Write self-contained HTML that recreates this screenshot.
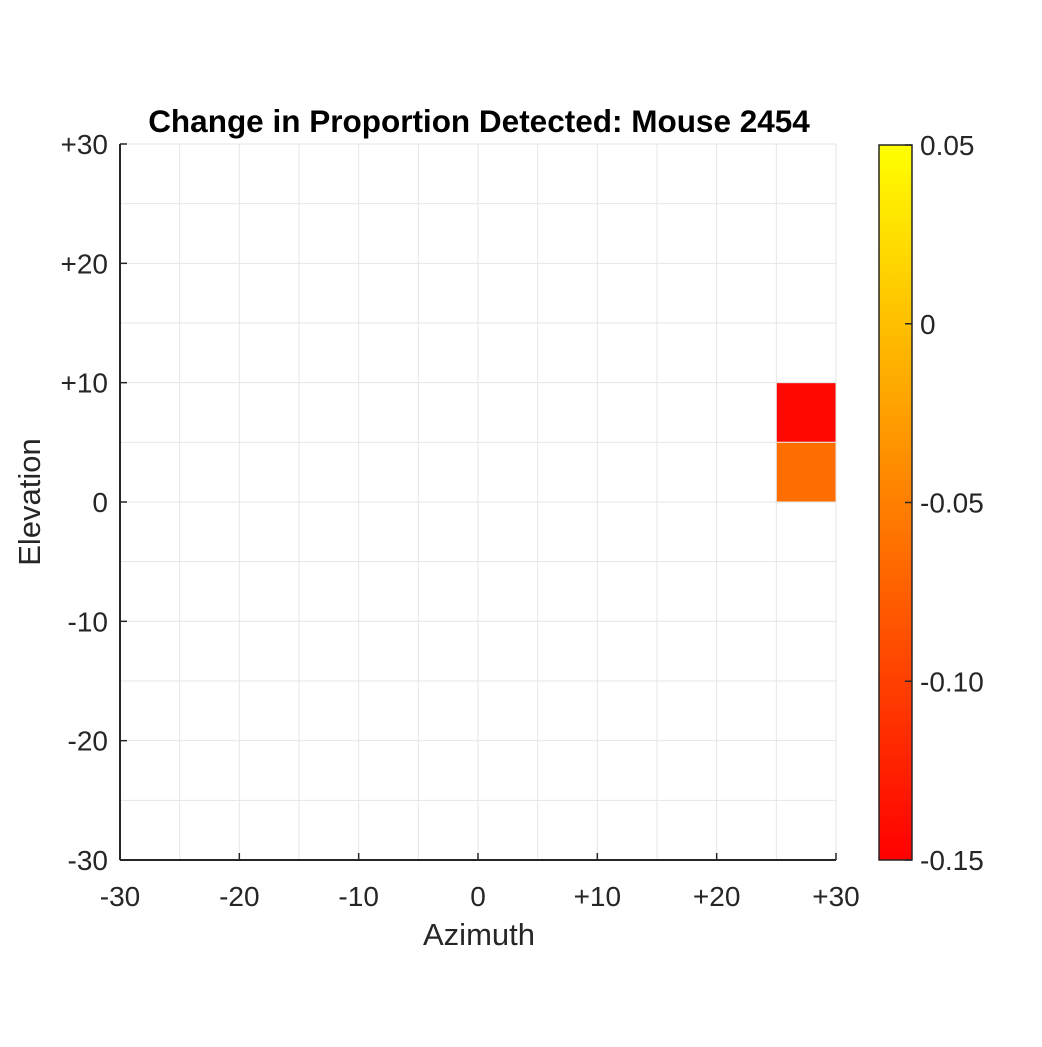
<!DOCTYPE html>
<html><head><meta charset="utf-8"><style>
html,body{margin:0;padding:0;background:#fff;}
text{font-family:"Liberation Sans",sans-serif;fill:#262626;}
</style></head><body>
<svg id="chart" width="1042" height="1042" xmlns="http://www.w3.org/2000/svg">
<defs><linearGradient id="autumn" x1="0" y1="1" x2="0" y2="0">
<stop offset="0" stop-color="#ff0000"/><stop offset="1" stop-color="#ffff00"/></linearGradient></defs>
<g id="grid"></g>
<g id="cells"></g>
<g id="axes"></g>
<text x="479" y="132" text-anchor="middle" font-size="31.5" font-weight="bold" style="fill:#000">Change in Proportion Detected: Mouse 2454</text>
<text x="479" y="945" text-anchor="middle" font-size="31">Azimuth</text>
<text transform="translate(40,502) rotate(-90)" text-anchor="middle" font-size="31">Elevation</text>
<g id="cbar"></g>
</svg>
<script>
const azStart = [25, 25];
const elStart = [5, 0];
const cellValues = [-0.144, -0.064];
const xTicks = [-30, -20, -10, 0, 10, 20, 30];
const yTicks = [-30, -20, -10, 0, 10, 20, 30];
const xTickLabels = ["-30", "-20", "-10", "0", "+10", "+20", "+30"];
const yTickLabels = ["-30", "-20", "-10", "0", "+10", "+20", "+30"];
const cbTicks = [-0.15, -0.10, -0.05, 0, 0.05];
const cbTickLabels = ["-0.15", "-0.10", "-0.05", "0", "0.05"];

const NS = "http://www.w3.org/2000/svg";
const L = 120, R = 836, T = 144, B = 860;
const xs = v => L + (v + 30) / 60 * (R - L);
const ys = v => B - (v + 30) / 60 * (B - T);
const cMin = -0.15, cMax = 0.05;
const CT = 145, CB = 860, CL = 879, CR = 912;
const cs = v => CB - (v - cMin) / (cMax - cMin) * (CB - CT);
function mk(tag, attrs, parent) {
  const e = document.createElementNS(NS, tag);
  for (const k in attrs) e.setAttribute(k, attrs[k]);
  parent.appendChild(e); return e;
}
const grid = document.getElementById('grid');
for (let v = -25; v <= 30; v += 5) {
  const gx = mk('line', {x1: xs(v), x2: xs(v), y1: T, y2: B, stroke: '#e6e6e6', 'stroke-width': 1}, grid);
  
  
  const gy = mk('line', {x1: L, x2: R, y1: ys(v), y2: ys(v), stroke: '#e6e6e6', 'stroke-width': 1}, grid);
  
  
}
function colorOf(v) {
  const t = Math.max(0, Math.min(1, (v - cMin) / (cMax - cMin)));
  return 'rgb(255,' + Math.round(255 * t) + ',0)';
}
const cells = document.getElementById('cells');
for (let i = 0; i < cellValues.length; i++) {
  const r = mk('rect', {x: xs(azStart[i]), y: ys(elStart[i] + 5), width: xs(azStart[i] + 5) - xs(azStart[i]), height: ys(elStart[i]) - ys(elStart[i] + 5), fill: colorOf(cellValues[i]), stroke: '#e6e6e6', 'stroke-width': 1}, cells);
  
  
}
const axes = document.getElementById('axes');
mk('line', {x1: L, x2: R, y1: B, y2: B, stroke: '#262626', 'stroke-width': 2}, axes);
mk('line', {x1: L, x2: L, y1: T, y2: B, stroke: '#262626', 'stroke-width': 2}, axes);
xTicks.forEach((v, i) => {
  mk('line', {x1: xs(v), x2: xs(v), y1: B, y2: B - 7, stroke: '#262626', 'stroke-width': 1.5}, axes);
  const t = mk('text', {x: xs(v), y: B + 46, 'text-anchor': 'middle', 'font-size': 28}, axes);
  t.textContent = xTickLabels[i];
  
  
});
yTicks.forEach((v, i) => {
  mk('line', {x1: L, x2: L + 7, y1: ys(v), y2: ys(v), stroke: '#262626', 'stroke-width': 1.5}, axes);
  const t = mk('text', {x: L - 12, y: ys(v) + 10, 'text-anchor': 'end', 'font-size': 28}, axes);
  t.textContent = yTickLabels[i];
  
  
});
const cbar = document.getElementById('cbar');
mk('rect', {x: CL, y: CT, width: CR - CL, height: CB - CT, fill: 'url(#autumn)', stroke: '#262626', 'stroke-width': 1.5}, cbar);
cbTicks.forEach((v, i) => {
  mk('line', {x1: CR - 7, x2: CR, y1: cs(v), y2: cs(v), stroke: '#262626', 'stroke-width': 1.5}, cbar);
  const t = mk('text', {x: CR + 8, y: cs(v) + 10, 'font-size': 28}, cbar);
  t.textContent = cbTickLabels[i];
  
  
});
</script>
</body></html>
